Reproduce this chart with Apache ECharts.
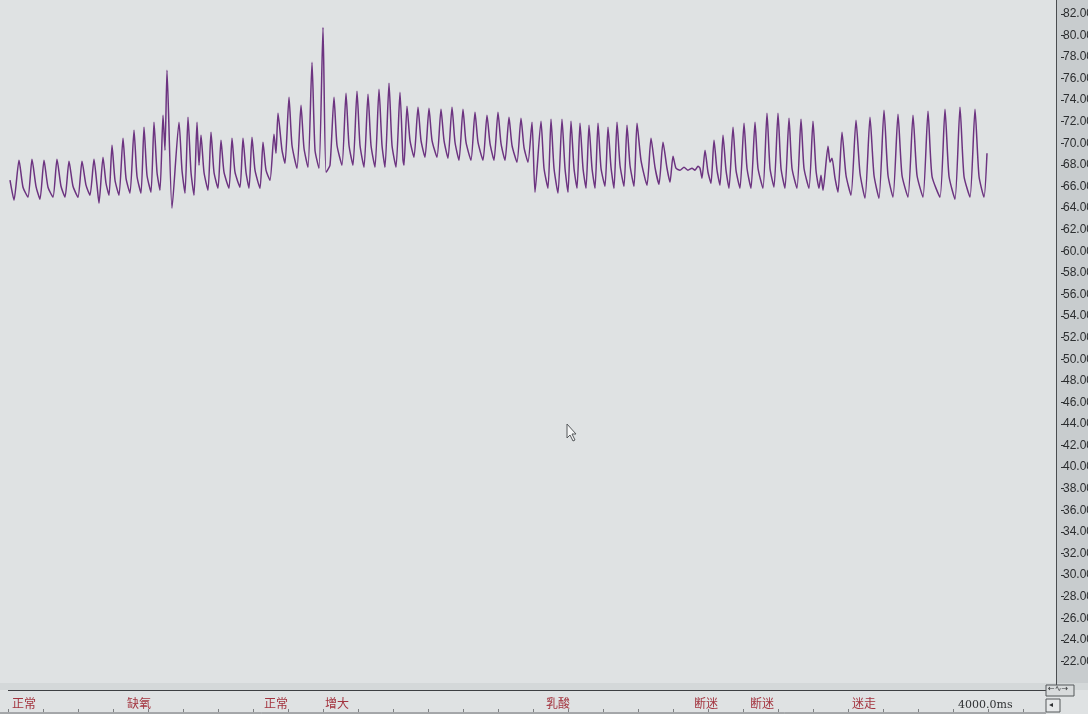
<!DOCTYPE html>
<html>
<head>
<meta charset="utf-8">
<script src="https://cdn.jsdelivr.net/npm/echarts@6/dist/echarts.min.js"></script>
<style>
  html, body { margin: 0; padding: 0; background: #dfe2e3; }
  #chart { width: 1088px; height: 714px; }
</style>
</head>
<body>
<div id="chart"></div>
<script>
// 压力曲线 (时间 ms, 数值) — 按图分四段读取
const traceA = [
    [8, 66.58], [24, 64.73], [44, 68.43], [60, 65.93], [80, 65.01], [96, 68.52], [112, 66.02],
    [128, 64.82], [144, 68.43], [160, 65.93], [180, 65.01], [196, 68.52], [212, 66.02],
    [228, 65.01], [244, 68.34], [260, 66.02], [280, 65.01], [296, 68.34], [312, 66.12],
    [328, 65.19], [344, 68.52], [356, 66.12], [364, 64.45], [380, 68.71], [392, 66.30],
    [404, 65.19], [416, 69.82], [428, 66.58], [444, 65.19], [460, 70.47], [472, 66.77],
    [488, 65.38], [504, 71.21], [516, 66.95], [532, 65.38], [544, 71.49], [556, 67.04],
    [572, 65.47], [584, 71.95], [596, 67.32], [608, 65.65], [620, 72.60], [628, 69.36],
    [636, 76.76], [656, 63.99], [684, 71.95], [696, 67.51], [708, 65.38], [720, 72.41],
    [732, 67.32], [744, 65.19], [756, 71.95], [764, 67.97], [772, 70.75], [784, 67.32],
    [800, 65.65], [812, 71.02], [824, 67.32], [840, 65.84], [852, 70.28], [864, 67.32],
    [884, 65.84], [896, 70.47], [908, 67.32], [928, 65.93], [940, 70.47], [952, 67.32]
];
const traceB = [
    [964, 65.84], [976, 70.56], [988, 67.51], [1008, 65.84], [1020, 70.10], [1032, 67.51],
    [1048, 66.58], [1064, 70.84], [1072, 69.08], [1080, 72.78], [1096, 69.36],
    [1108, 68.15], [1124, 74.26], [1136, 69.82], [1156, 67.69], [1172, 73.52], [1184, 69.54],
    [1200, 67.78], [1216, 77.50], [1228, 69.36], [1244, 67.69], [1260, 80.74], [1272, 67.32],
    [1288, 67.97], [1304, 74.26], [1316, 69.82], [1336, 67.97], [1352, 74.63], [1364, 69.82],
    [1380, 67.97], [1396, 74.82], [1408, 69.82], [1424, 67.78], [1440, 74.54], [1452, 69.82],
    [1468, 67.78], [1484, 75.00], [1496, 69.82], [1508, 67.78], [1524, 75.56], [1536, 69.82],
    [1552, 67.78], [1568, 74.72], [1580, 68.43], [1584, 67.97], [1596, 73.43], [1608, 70.28],
    [1624, 68.71], [1640, 73.34], [1652, 70.28], [1668, 68.71], [1684, 73.24], [1696, 70.28],
    [1716, 68.71], [1732, 73.15], [1744, 70.28], [1760, 68.62], [1776, 73.34], [1788, 70.10],
    [1804, 68.43], [1820, 73.15], [1832, 70.10], [1852, 68.43], [1868, 72.87], [1880, 70.10],
    [1900, 68.43], [1916, 72.60], [1928, 70.00]
];
const traceC = [
    [1944, 68.43], [1960, 72.87], [1972, 70.00], [1988, 68.43], [2004, 72.41], [2016, 69.82],
    [2036, 68.25], [2052, 72.32], [2064, 69.63], [2080, 68.25], [2096, 71.95], [2108, 65.47],
    [2132, 72.04], [2144, 67.69], [2160, 65.84], [2172, 72.23], [2184, 67.69],
    [2200, 65.38], [2216, 72.23], [2228, 67.69], [2240, 65.47], [2252, 72.04], [2264, 67.69],
    [2276, 65.84], [2288, 71.86], [2300, 67.69], [2312, 65.84], [2324, 71.67], [2336, 67.69],
    [2348, 65.84], [2360, 71.86], [2372, 67.69], [2388, 66.02], [2400, 71.49], [2412, 67.78],
    [2424, 65.84], [2436, 71.95], [2448, 67.97], [2464, 66.02], [2476, 71.67], [2488, 67.97],
    [2504, 66.02], [2516, 71.86], [2532, 68.43], [2556, 66.12], [2572, 70.47], [2588, 67.78],
    [2604, 66.21], [2620, 70.10], [2636, 67.69], [2648, 66.40], [2660, 68.80], [2672, 67.69],
    [2688, 67.51], [2704, 67.78], [2720, 67.51], [2736, 67.69], [2748, 67.51], [2760, 67.88],
    [2768, 67.69], [2776, 66.77], [2788, 69.36], [2800, 67.32], [2812, 66.30], [2824, 70.28],
    [2836, 67.51], [2848, 66.12], [2860, 70.75], [2872, 67.51], [2884, 65.84], [2900, 71.49],
    [2912, 67.51]
];
const traceD = [
    [2928, 65.84], [2944, 71.86], [2956, 67.69], [2972, 65.84], [2988, 71.95], [3000, 67.69],
    [3020, 65.84], [3036, 72.78], [3048, 67.69], [3064, 65.93], [3080, 72.78], [3092, 67.69],
    [3108, 65.84], [3124, 72.32], [3136, 67.69], [3156, 65.84], [3172, 72.23], [3184, 67.69],
    [3204, 65.84], [3220, 72.04], [3232, 67.51], [3244, 65.84], [3252, 67.04], [3260, 65.65],
    [3280, 69.73], [3288, 68.25], [3296, 68.62], [3308, 66.77], [3320, 65.47], [3336, 71.02],
    [3352, 67.04], [3372, 65.19], [3392, 72.13], [3408, 67.23], [3428, 64.91], [3448, 72.41],
    [3464, 67.04], [3484, 64.91], [3504, 73.06], [3520, 67.04], [3540, 65.01], [3560, 72.69],
    [3576, 67.04], [3600, 65.01], [3620, 72.60], [3636, 67.04], [3660, 65.01], [3680, 72.97],
    [3696, 66.95], [3728, 65.01], [3748, 73.15], [3764, 66.95], [3788, 64.82], [3808, 73.34],
    [3824, 66.95], [3848, 65.01], [3868, 73.15], [3884, 66.95], [3904, 65.01], [3916, 69.08]
];

// 事件标记
const eventTimes = [8, 468, 1016, 1260, 2144, 2736, 2960, 3368];
const eventNames = ['正常', '缺氧', '正常', '增大', '乳酸', '断迷', '断迷', '迷走'];
const scaleText = '4000.0ms';

const chart = echarts.init(document.getElementById('chart'));

const staticGraphics = [
    // 右侧刻度面板
    { type: 'rect', z: -10, shape: { x: 1056, y: 0, width: 32, height: 684 }, style: { fill: '#c8ccce' } },
    { type: 'line', z: 5, shape: { x1: 1056.5, y1: 0, x2: 1056.5, y2: 690 }, style: { stroke: '#4a4d50', lineWidth: 1 } },
    // 底部标记栏
    { type: 'rect', z: -10, shape: { x: 0, y: 683, width: 1088, height: 7 }, style: { fill: '#d4d8d9' } },
    { type: 'line', z: 5, shape: { x1: 8, y1: 690.5, x2: 1046, y2: 690.5 }, style: { stroke: '#3d3f42', lineWidth: 1.2 } },
    { type: 'line', z: 5, shape: { x1: 0, y1: 713, x2: 1046, y2: 713 }, style: { stroke: '#6a6d70', lineWidth: 1 } },
    { type: 'text', z: 5, style: { x: 958, y: 700, text: scaleText, fill: '#2f3133', font: '11px "DejaVu Serif", serif' } },
    // 右下角小按钮
    { type: 'rect', z: 5, shape: { x: 1046, y: 685, width: 28, height: 11 }, style: { fill: '#d8dbdc', stroke: '#55585b', lineWidth: 1 } },
    { type: 'text', z: 6, style: { x: 1048, y: 685, text: '←∿→', fill: '#2f3133', font: '8px "DejaVu Sans"' } },
    { type: 'rect', z: 5, shape: { x: 1046, y: 699, width: 14, height: 13 }, style: { fill: '#e6e8e9', stroke: '#55585b', lineWidth: 1 } },
    { type: 'text', z: 6, style: { x: 1049, y: 701, text: '◂', fill: '#2f3133', font: '8px "DejaVu Sans"' } },
    // 鼠标指针
    {
        type: 'polygon', z: 6,
        shape: { points: [[567, 424], [567, 438], [570, 435], [573, 441], [575, 440], [572, 434], [576, 434]] },
        style: { fill: '#f4f5f5', stroke: '#55585b', lineWidth: 1 }
    }
];

const option = {
    animation: false,
    backgroundColor: '#dfe2e3',
    grid: { left: 8, right: 32, top: 3, bottom: 31, containLabel: false, outerBoundsMode: 'none' },
    xAxis: {
        type: 'value',
        min: 0,
        max: 4192,
        interval: 140,
        offset: 29,
        axisLine: { show: false, onZero: false },
        axisTick: { show: true, inside: true, length: 3, lineStyle: { color: '#7d8083' } },
        axisLabel: { show: false },
        splitLine: { show: false }
    },
    yAxis: {
        type: 'value',
        position: 'right',
        min: 20,
        max: 83,
        interval: 2,
        offset: 5,
        axisLine: { show: false, onZero: false },
        axisTick: { show: true, length: 3, lineStyle: { color: '#2c2e30', width: 1 } },
        axisLabel: {
            margin: 2,
            color: '#2c2e30',
            fontSize: 12,
            fontFamily: '"Liberation Sans Narrow", "Liberation Sans", sans-serif',
            showMinLabel: false,
            showMaxLabel: false,
            formatter: v => v.toFixed(2)
        },
        splitLine: { show: false }
    },
    series: [
        {
            type: 'line',
            data: traceA.concat(traceB, traceC, traceD),
            showSymbol: false,
            symbol: 'none',
            smooth: 0.2,
            lineStyle: { color: '#6c3380', width: 1.5 },
            z: 3
        }
    ],
    graphic: staticGraphics
};

chart.setOption(option);

// 事件文字放在底部标记栏
const eventGraphics = eventTimes.map((t, i) => {
    const px = chart.convertToPixel({ xAxisIndex: 0 }, t);
    return {
        type: 'text',
        z: 6,
        style: {
            x: px + 2,
            y: 697,
            text: eventNames[i],
            fill: '#a3343f',
            font: '12px "Noto Sans CJK SC", sans-serif'
        }
    };
});

chart.setOption({ graphic: staticGraphics.concat(eventGraphics) });
</script>
</body>
</html>
